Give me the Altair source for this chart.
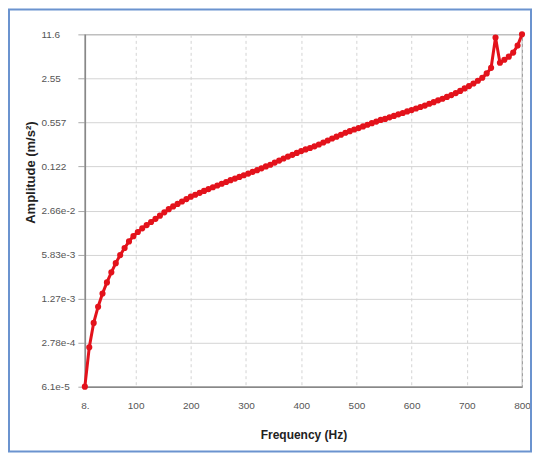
import altair as alt
import pandas as pd

freq = list(range(8, 801, 8))
amp = [6.10e-5, 2.38e-4, 5.51e-4, 9.63e-4, 1.52e-3, 2.23e-3, 3.16e-3, 4.33e-3, 5.72e-3, 7.31e-3,
       9.17e-3, 1.10e-2, 1.27e-2, 1.44e-2, 1.61e-2, 1.79e-2, 2.00e-2, 2.23e-2, 2.50e-2, 2.79e-2,
       3.07e-2, 3.34e-2, 3.63e-2, 3.95e-2, 4.29e-2, 4.59e-2, 4.90e-2, 5.24e-2, 5.58e-2, 5.94e-2,
       6.30e-2, 6.71e-2, 7.12e-2, 7.58e-2, 8.02e-2, 8.48e-2, 9.00e-2, 9.52e-2, 0.101, 0.107,
       0.114, 0.122, 0.129, 0.139, 0.149, 0.160, 0.171, 0.182, 0.194, 0.207,
       0.219, 0.230, 0.244, 0.260, 0.278, 0.298, 0.319, 0.340, 0.364, 0.389,
       0.411, 0.435, 0.458, 0.485, 0.513, 0.542, 0.573, 0.606, 0.628, 0.662,
       0.697, 0.735, 0.771, 0.813, 0.851, 0.900, 0.948, 0.995, 1.06, 1.12,
       1.19, 1.26, 1.34, 1.43, 1.53, 1.65, 1.80, 1.95, 2.13, 2.34,
       2.60, 3.02, 3.66, 10.4, 4.36, 4.84, 5.38, 6.19, 7.90, 11.6]

y_ticks = [6.1e-5, 2.78e-4, 1.27e-3, 5.83e-3, 2.66e-2, 0.122, 0.557, 2.55, 11.6]
x_ticks = [8, 100, 200, 300, 400, 500, 600, 700, 800]

df = pd.DataFrame({"Frequency": freq, "Amplitude": amp})

RED = "#e3121b"

x_enc = alt.X(
    "Frequency:Q",
    scale=alt.Scale(domain=[8, 800], nice=False, zero=False),
    axis=alt.Axis(
        values=x_ticks,
        labelExpr="datum.value == 8 ? '8.' : format(datum.value, 'd')",
        title="Frequency (Hz)",
        titleFontSize=12,
        titleFontWeight="bold",
        titleColor="#222",
        titleBaseline="middle",
        titleY=48,
        labelFontSize=10,
        labelColor="#555",
        labelPadding=14,
        tickSize=0,
        domainColor="#888",
        domainWidth=1.5,
        grid=True,
        gridColor="#d4d4d4",
        gridDash=[3, 3],
        labelFlush=False,
    ),
)

y_enc = alt.Y(
    "Amplitude:Q",
    scale=alt.Scale(type="log", domain=[6.1e-5, 11.6], nice=False),
    axis=alt.Axis(
        values=y_ticks,
        labelExpr="datum.value < 0.1 ? format(datum.value, '.3~e') : format(datum.value, '.3~r')",
        title="Amplitude (m/s²)",
        titleFontSize=13,
        titleFontWeight="bold",
        titleColor="#222",
        titleAngle=270,
        titleAlign="center",
        titleBaseline="middle",
        titleX=-54,
        titleY=138,
        labelFontSize=10,
        labelFont="Liberation Sans Narrow, Liberation Sans",
        labelColor="#555",
        labelAlign="left",
        labelPadding=37,
        tickSize=7,
        tickColor="#aaa",
        domainColor="#888",
        domainWidth=1.5,
        grid=True,
        gridColor="#d4d4d4",
        labelFlush=False,
    ),
)

line = alt.Chart(df).mark_line(color=RED, strokeWidth=3).encode(x=x_enc, y=y_enc)
pts = alt.Chart(df).mark_circle(color=RED, size=38, opacity=1).encode(x="Frequency:Q", y="Amplitude:Q")

frame = alt.Chart(pd.DataFrame({"d": [0]})).mark_rect(
    fillOpacity=0, stroke="#6b93cf", strokeWidth=2
).encode(x=alt.value(-76), x2=alt.value(447), y=alt.value(-25), y2=alt.value(418))

chart = alt.layer(frame, line, pts).properties(
    width=438,
    height=353,
    autosize=alt.AutoSizeParams(type="none"),
    padding={"left": 77, "top": 26, "right": 10, "bottom": 66},
    background="white",
).configure_view(stroke="#999", strokeWidth=1.2).configure_axis(
    labelFont="Liberation Sans", titleFont="Liberation Sans"
)

chart.save("out.html", embed_options={"renderer": "svg", "actions": False})
